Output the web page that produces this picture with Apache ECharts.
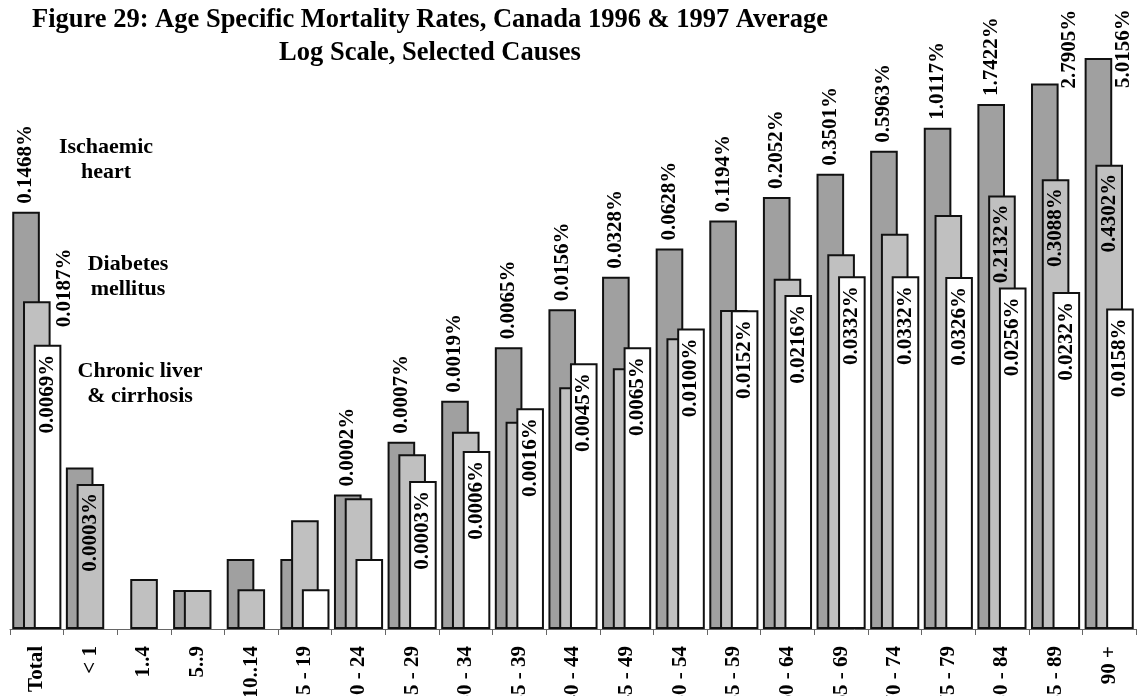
<!DOCTYPE html>
<html>
<head>
<meta charset="utf-8">
<script src="https://cdn.jsdelivr.net/npm/echarts@6/dist/echarts.min.js"></script>
<style>
html,body{margin:0;padding:0;background:#fff;}
#chart{width:1137px;height:696px;}
</style>
</head>
<body>
<div id="chart"></div>
<script>
// ---- data (values in %) ----
const categories = ['Total','< 1','1..4','5..9','10..14','15 - 19','20 - 24','25 - 29','30 - 34','35 - 39','40 - 44','45 - 49','50 - 54','55 - 59','60 - 64','65 - 69','70 - 74','75 - 79','80 - 84','85 - 89','90 +'];
const ischaemic = [0.1468, 0.00041, null, 0.0000245, 0.00005, 0.00005, 0.00022, 0.00074, 0.0019, 0.0065, 0.0156, 0.0328, 0.0628, 0.1194, 0.2052, 0.3501, 0.5963, 1.0117, 1.7422, 2.7905, 5.0156];
const diabetes  = [0.0187, 0.00028, 0.0000316, 0.0000245, 0.000025, 0.000122, 0.000202, 0.000555, 0.00093, 0.00117, 0.00259, 0.0040, 0.00798, 0.0153, 0.0314, 0.0551, 0.0885, 0.136, 0.2132, 0.3088, 0.4302];
const chronic   = [0.0069, null, null, null, null, 0.000025, 0.00005, 0.0003, 0.0006, 0.0016, 0.0045, 0.0065, 0.0100, 0.0152, 0.0216, 0.0332, 0.0332, 0.0326, 0.0256, 0.0232, 0.0158];
const seriesNames = ['Ischaemic heart', 'Diabetes mellitus', 'Chronic liver & cirrhosis'];
const titleLines = ['Figure 29: Age Specific Mortality Rates, Canada 1996 & 1997 Average', 'Log Scale, Selected Causes'];

// which bars carry value labels
const ischaemicLabelled = [0,6,7,8,9,10,11,12,13,14,15,16,17,18,19,20];
const diabetesLabelled  = [0,1,18,19,20];
const chronicLabelled   = [0,7,8,9,10,11,12,13,14,15,16,17,18,19,20];

const FONT = '"Liberation Serif", "Times New Roman", serif';
const fmt = v => v.toFixed(4) + '%';
const labelBase = {show:true, rotate:90, fontFamily:FONT, fontWeight:'bold', fontSize:21, color:'#000', formatter: p => fmt(p.value)};
const BAR_W = 27.6;

function build(values, labelled, kind){
  return values.map((v,i) => {
    if (v == null) return '-';
    if (!labelled.includes(i)) return {value:v};
    let label;
    if (kind === 'top') {
      if (i >= 19) {
        const dy = i === 19 ? 5 : 30;
        label = Object.assign({}, labelBase, {position:[BAR_W + 11, dy], align:'left', verticalAlign:'middle'});
      } else {
        label = Object.assign({}, labelBase, {position:'top', distance:8, align:'left', verticalAlign:'middle'});
      }
    } else if (kind === 'mid' && i === 0) {
      label = Object.assign({}, labelBase, {position:[BAR_W + 14, 26], align:'left', verticalAlign:'middle'});
    } else {
      label = Object.assign({}, labelBase, {position:'insideTop', distance:kind==='mid'?9:10, align:'right', verticalAlign:'middle'});
    }
    return {value:v, label};
  });
}

const barCommon = {type:'bar', barWidth:BAR_W, barGap:'-61%', silent:true, animation:false};
const border = {borderColor:'#111', borderWidth:2};

const chart = echarts.init(document.getElementById('chart'), null, {renderer:'canvas'});
chart.setOption({
  animation:false,
  backgroundColor:'#fff',
  grid:{left:10, right:1, top:28, bottom:67, containLabel:false, outerBoundsMode:'none'},
  xAxis:{
    type:'category', data:categories, boundaryGap:true,
    axisLine:{lineStyle:{color:'#666', width:1}},
    axisTick:{show:true, length:6, lineStyle:{color:'#666', width:1}},
    axisLabel:{rotate:90, margin:17, fontFamily:FONT, fontWeight:'bold', fontSize:21, color:'#000', interval:0}
  },
  yAxis:{
    type:'log', logBase:10, min:0.00001, max:10, startValue:0.00001,
    show:false, splitLine:{show:false}
  },
  series:[
    Object.assign({}, barCommon, {name:seriesNames[0], data:build(ischaemic, ischaemicLabelled, 'top'), itemStyle:Object.assign({color:'#a0a0a0'}, border)}),
    Object.assign({}, barCommon, {name:seriesNames[1], data:build(diabetes, diabetesLabelled, 'mid'), itemStyle:Object.assign({color:'#c0c0c0'}, border)}),
    Object.assign({}, barCommon, {name:seriesNames[2], data:build(chronic, chronicLabelled, 'low'), itemStyle:Object.assign({color:'#ffffff'}, border)})
  ],
  graphic:[
    {type:'text', x:430, y:4, style:{text:titleLines.join('\n'), textAlign:'center', textVerticalAlign:'top', font:'bold 26.5px ' + FONT, lineHeight:33, fill:'#000'}},
    {type:'text', x:106, y:135, style:{text:'Ischaemic\nheart', textAlign:'center', textVerticalAlign:'top', font:'bold 22px ' + FONT, lineHeight:25, fill:'#000'}},
    {type:'text', x:128, y:252, style:{text:'Diabetes\nmellitus', textAlign:'center', textVerticalAlign:'top', font:'bold 22px ' + FONT, lineHeight:25, fill:'#000'}},
    {type:'text', x:140, y:359, style:{text:'Chronic liver\n& cirrhosis', textAlign:'center', textVerticalAlign:'top', font:'bold 22px ' + FONT, lineHeight:25, fill:'#000'}}
  ]
});
</script>
</body>
</html>
